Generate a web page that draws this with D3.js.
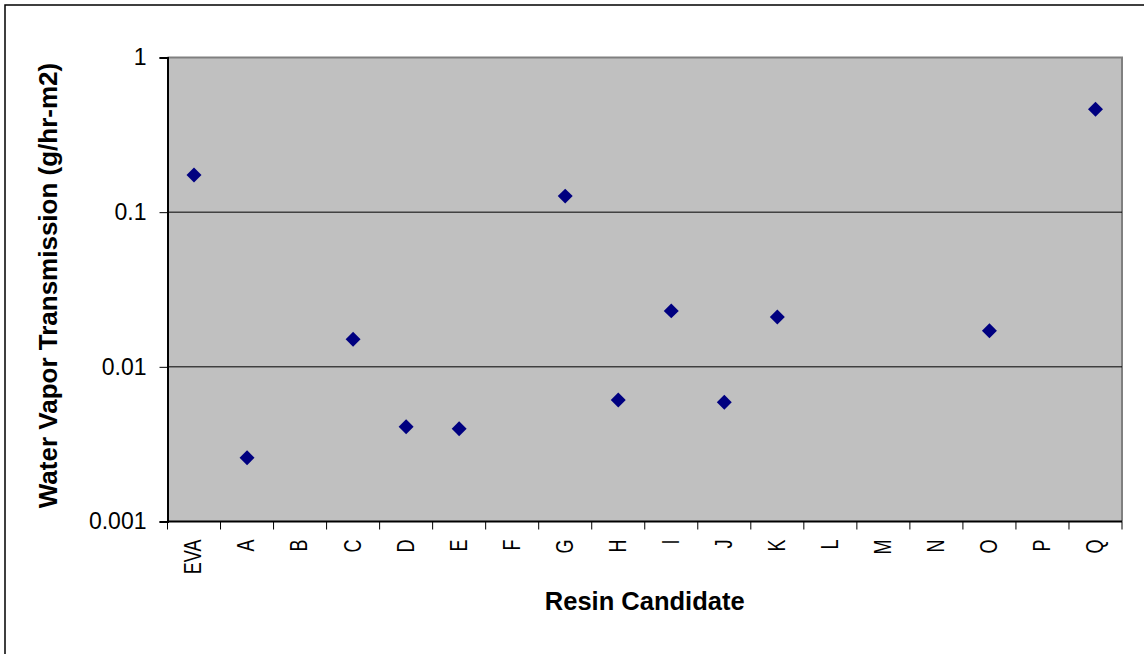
<!DOCTYPE html>
<html>
<head>
<meta charset="utf-8">
<script src="https://cdn.jsdelivr.net/npm/d3@7"></script>
<style>
  body { margin: 0; background: #fff; }
  text { font-family: "Liberation Sans", Arial, sans-serif; }
</style>
</head>
<body>
<svg id="chart" width="1144" height="654"></svg>
<script>
// resin candidates along the x axis
const categories = ["EVA", "A", "B", "C", "D", "E", "F", "G", "H", "I", "J", "K", "L", "M", "N", "O", "P", "Q"];
// water vapor transmission, g/hr-m2 (null = not measured)
const wvtValues = [0.174, 0.00258, null, 0.0151, 0.0041, 0.00398, null, 0.127, 0.0061, 0.023, 0.0059, 0.021, null, null, null, 0.0171, null, 0.463];
const yTicks = [0.001, 0.01, 0.1, 1];
const yTickLabels = ["0.001", "0.01", "0.1", "1"];

const svg = d3.select("#chart");

const plot = { left: 167.5, right: 1122, top: 57.5, bottom: 521.5 };

// outer chart frame (runs off the right/bottom edge)
svg.append("rect")
    .attr("x", 5).attr("y", 5)
    .attr("width", 1160).attr("height", 680)
    .attr("fill", "#fff")
    .attr("stroke", "#000")
    .attr("stroke-width", 1.5);

const x = d3.scaleBand()
    .domain(categories)
    .range([plot.left, plot.right])
    .padding(0);

const y = d3.scaleLog()
    .domain([0.001, 1])
    .range([plot.bottom, plot.top]);

// plot background
svg.append("rect")
    .attr("x", plot.left).attr("y", plot.top)
    .attr("width", plot.right - plot.left)
    .attr("height", plot.bottom - plot.top)
    .attr("fill", "#c0c0c0");

// top + right border of the plot area
svg.append("path")
    .attr("d", `M${plot.left},${plot.top}H${plot.right}V${plot.bottom}`)
    .attr("fill", "none")
    .attr("stroke", "#808080")
    .attr("stroke-width", 2);

// gridlines
svg.append("g")
    .selectAll("line")
    .data(yTicks.slice(1, -1))
    .enter()
    .append("line")
    .attr("x1", plot.left).attr("x2", plot.right)
    .attr("y1", d => y(d)).attr("y2", d => y(d))
    .attr("stroke", "#000")
    .attr("stroke-width", 1);

// y axis
const yAxis = svg.append("g")
    .attr("transform", `translate(${plot.left},0)`)
    .call(d3.axisLeft(y).tickValues(yTicks).tickFormat((d, i) => yTickLabels[i]).tickSize(8).tickPadding(13));
yAxis.select(".domain").attr("stroke", "#000").attr("stroke-width", 2);
yAxis.selectAll(".tick line").attr("stroke", "#000");
yAxis.selectAll(".tick text")
    .attr("font-family", "Liberation Sans, Arial, sans-serif")
    .style("font-size", "23px")
    .attr("fill", "#000");

// x axis: ticks sit at category boundaries
const xAxis = svg.append("g")
    .attr("transform", `translate(0,${plot.bottom})`);
xAxis.append("line")
    .attr("x1", plot.left).attr("x2", plot.right)
    .attr("stroke", "#000")
    .attr("stroke-width", 2);
xAxis.selectAll("line.tick")
    .data(categories.concat(["end"]))
    .enter()
    .append("line")
    .attr("class", "tick")
    .attr("x1", (d, i) => plot.left + i * x.bandwidth())
    .attr("x2", (d, i) => plot.left + i * x.bandwidth())
    .attr("y1", 0).attr("y2", 8)
    .attr("stroke", "#000");

// rotated category labels, squeezed along their length
xAxis.selectAll("text")
    .data(categories)
    .enter()
    .append("text")
    .attr("transform", d => `translate(${x(d) + x.bandwidth() / 2 - 1},18) rotate(-90) scale(0.75,1)`)
    .attr("text-anchor", "end")
    .attr("dy", "0.35em")
    .style("font-size", "24px")
    .text(d => d);

// axis titles
svg.append("text")
    .attr("transform", `translate(57,${(plot.top + plot.bottom) / 2 - 4}) rotate(-90)`)
    .attr("text-anchor", "middle")
    .style("font-size", "26px")
    .style("font-weight", "bold")
    .text("Water Vapor Transmission (g/hr-m2)");

svg.append("text")
    .attr("x", (plot.left + plot.right) / 2)
    .attr("y", 610)
    .attr("text-anchor", "middle")
    .style("font-size", "25.5px")
    .style("font-weight", "bold")
    .text("Resin Candidate");

// data markers
const points = categories
    .map((c, i) => ({ cat: c, value: wvtValues[i] }))
    .filter(d => d.value !== null);

svg.append("g")
    .selectAll("path")
    .data(points)
    .enter()
    .append("path")
    .attr("transform", d => `translate(${x(d.cat) + x.bandwidth() / 2},${y(d.value)}) rotate(45)`)
    .attr("d", d3.symbol(d3.symbolSquare, 112))
    .attr("fill", "#000080");
</script>
</body>
</html>
